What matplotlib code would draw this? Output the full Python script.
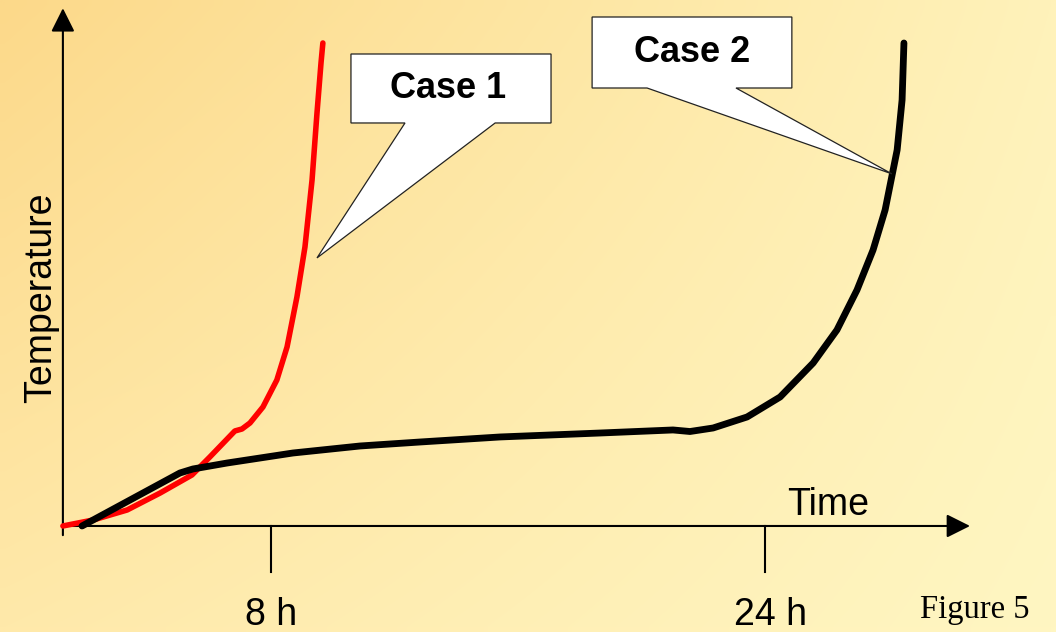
import numpy as np
import matplotlib
matplotlib.use("Agg")
import matplotlib.pyplot as plt
from matplotlib.patches import Polygon

# ---- data (time in hours, temperature in arbitrary units) ----
case1_time = [1.26, 2.24, 3.34, 4.41, 5.44, 6.02, 6.83, 7.06, 7.32, 7.74, 8.19,
              8.52, 8.84, 9.10, 9.33, 9.49, 9.62, 9.68]
case1_temp = [0.0, 1.24, 3.31, 6.83, 10.56, 14.29, 19.67, 20.08, 21.33, 24.64, 30.23,
              37.06, 47.41, 57.76, 71.64, 85.51, 95.86, 100.0]

case2_time = [1.88, 5.05, 5.47, 6.58, 8.71, 10.88, 12.83, 15.42, 18.66, 21.02, 21.57,
              22.32, 23.42, 24.49, 25.56, 26.33, 26.98, 27.50, 27.89, 28.15, 28.28,
              28.44, 28.50]
case2_temp = [0.0, 10.97, 11.80, 13.04, 15.11, 16.56, 17.39, 18.43, 19.25, 19.88, 19.56,
              20.29, 22.57, 26.71, 33.75, 40.58, 48.86, 57.14, 65.42, 73.71, 77.85,
              88.20, 100.0]

tick_hours = [8, 24]
tick_labels = ["8 h", "24 h"]
tick_label_hours = [8.0, 24.19]

callout_labels = ["Case 1", "Case 2"]
callout_tip_time = [9.49, 28.11]
callout_tip_temp = [55.5, 72.9]

# ---- figure ----
W, H, DPI = 1056, 632, 100
fig = plt.figure(figsize=(W / DPI, H / DPI), dpi=DPI)
ax = fig.add_axes([0, 0, 1, 1])
ax.set_xlim(-0.777, 33.425)
ax.set_ylim(-21.95, 108.9)
ax.axis("off")

# background gradient (diagonal)
tl = np.array([252, 217, 138]) / 255
tr = np.array([255, 242, 186]) / 255
bl = np.array([255, 233, 170]) / 255
br = np.array([255, 246, 194]) / 255
ny, nx = 64, 106
u = np.linspace(0, 1, nx)[None, :, None]
v = np.linspace(0, 1, ny)[:, None, None]
img = (1 - u) * (1 - v) * tl + u * (1 - v) * tr + (1 - u) * v * bl + u * v * br
ax.imshow(img, extent=(-0.777, 33.425, -21.95, 108.9), aspect="auto",
          interpolation="bilinear", zorder=0)

x0 = case1_time[0]
# axes with arrows
arrow = dict(arrowstyle="-|>,head_length=0.4,head_width=0.2", lw=1.5,
             color="black", mutation_scale=36, shrinkA=0, shrinkB=0)
ax.annotate("", xy=(x0, 107.2), xytext=(x0, -1.9), arrowprops=arrow, zorder=2)
ax.annotate("", xy=(30.64, 0), xytext=(x0, 0), arrowprops=arrow, zorder=2)

# ticks
for h, lh, lab in zip(tick_hours, tick_label_hours, tick_labels):
    ax.plot([h, h], [0, -9.52], color="black", lw=1.5, zorder=2)
    ax.text(lh, -20.5, lab, ha="center", va="baseline", fontsize=27,
            family="Liberation Sans", zorder=3)

ax.text(26.04, 2.3, "Time", ha="center", va="baseline", fontsize=27,
        family="Liberation Sans", zorder=3)
ax.text(0.55, 47.2, "Temperature", ha="center", va="center", rotation=90,
        fontsize=27, family="Liberation Sans", zorder=3)

# curves
ax.plot(case1_time, case1_temp, color="#ff0000", lw=4.0, solid_capstyle="round",
        solid_joinstyle="round", zorder=4)
ax.plot(case2_time, case2_temp, color="black", lw=4.9, solid_capstyle="round",
        solid_joinstyle="round", zorder=5)

# callouts
boxes = [  # left, right, bottom, top, base_left, base_right
    (10.59, 17.07, 83.44, 97.72, 12.34, 15.26),
    (18.40, 24.87, 90.68, 105.38, 20.18, 23.06),
]
text_pos = [(13.73, 90.6), (21.64, 98.1)]
for (l, r, b, t, bl_, br_), lab, tx, ty, (cx, cy) in zip(
        boxes, callout_labels, callout_tip_time, callout_tip_temp, text_pos):
    verts = [(l, t), (r, t), (r, b), (br_, b), (tx, ty), (bl_, b), (l, b)]
    ax.add_patch(Polygon(verts, closed=True, facecolor="white",
                         edgecolor="#222222", lw=0.9, zorder=6))
    ax.text(cx, cy, lab, ha="center", va="center", fontsize=26, fontweight="bold",
            family="Liberation Sans", zorder=7)

ax.text(30.80, -17.3, "Figure 5", ha="center", va="center", fontsize=23.5,
        family="Liberation Serif", zorder=3)

fig.savefig("out.png", dpi=DPI)
